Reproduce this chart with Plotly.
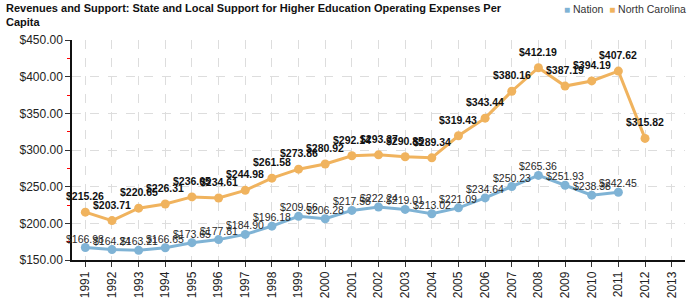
import plotly.graph_objects as go

years = [str(y) for y in range(1991, 2014)]
nation = [166.98, 164.24, 163.21, 166.65, 173.65, 177.81, 184.90, 196.18, 209.56, 206.28,
          217.58, 222.24, 219.01, 213.02, 221.09, 234.64, 250.23, 265.36, 251.93, 238.38, 242.45]
nc = [215.26, 203.71, 220.65, 226.31, 236.05, 234.61, 244.98, 261.58, 273.86, 280.92,
      292.14, 293.37, 290.85, 289.34, 319.43, 343.44, 380.16, 412.19, 387.19, 394.19, 407.62, 315.82]

blue = "#7fb3d5"
orange = "#f0b35e"
FONT = "Arial, Liberation Sans"

fig = go.Figure()
fig.add_trace(go.Scatter(
    x=years[:len(nation)], y=nation, mode="lines+markers",
    line=dict(color=blue, width=3), marker=dict(color=blue, size=9),
    showlegend=False, cliponaxis=False))
fig.add_trace(go.Scatter(
    x=years[:len(nc)], y=nc, mode="lines+markers",
    line=dict(color=orange, width=3), marker=dict(color=orange, size=9),
    showlegend=False, cliponaxis=False))

annotations = []
for i, v in enumerate(nation):
    annotations.append(dict(x=i, y=v, xref="x", yref="y", text=f"${v:.2f}",
                            showarrow=False, yshift=9, yanchor="middle",
                            font=dict(family=FONT, size=10.5, color="#2a2a2a")))
for i, v in enumerate(nc):
    annotations.append(dict(x=i, y=v, xref="x", yref="y", text=f"<b>${v:.2f}</b>",
                            showarrow=False, yshift=16, yanchor="middle",
                            font=dict(family=FONT, size=10.5, color="#111")))

annotations += [
    dict(text="<b>Revenues and Support: State and Local Support for Higher Education Operating Expenses Per<br>Capita</b>",
         xref="paper", yref="paper", x=0, xshift=-68, y=1, yshift=40,
         xanchor="left", yanchor="top", align="left", showarrow=False,
         font=dict(family=FONT, size=11, color="#111")),
    dict(text=f'<span style="color:{blue};font-size:10px">■</span> Nation  '
              f'<span style="color:{orange};font-size:10px">■</span> North Carolina',
         xref="paper", yref="paper", x=1.0, y=1.0, xanchor="right", yanchor="bottom",
         xshift=3, yshift=23, showarrow=False, font=dict(family=FONT, size=10.5, color="#333")),
]

fig.update_layout(
    width=700, height=300,
    margin=dict(l=72, r=15, t=40, b=40),
    paper_bgcolor="white", plot_bgcolor="white",
    font=dict(family=FONT, color="#222"),
    showlegend=False,
    annotations=annotations,
    xaxis=dict(type="category", categoryorder="array", categoryarray=years,
               range=[-0.5, 22.5], tickangle=-90, automargin=False,
               showgrid=True, gridcolor="#dddddd", griddash="dash",
               showline=True, linecolor="#111", linewidth=1.5,
               ticks="outside", ticklen=5, tickcolor="#333",
               tickfont=dict(size=12, color="#222")),
    yaxis=dict(range=[150, 450], dtick=50, tickprefix="$", tickformat=",.2f",
               automargin=False,
               showgrid=True, gridcolor="#dddddd", griddash="dash",
               showline=True, linecolor="#111", linewidth=1.5,
               ticks="outside", ticklen=5, tickcolor="#333",
               minor=dict(ticks="outside", ticklen=3, tickcolor="red", dtick=25, showgrid=False),
               zeroline=False, tickfont=dict(size=12, color="#222")),
)

fig.write_html("out.html")
